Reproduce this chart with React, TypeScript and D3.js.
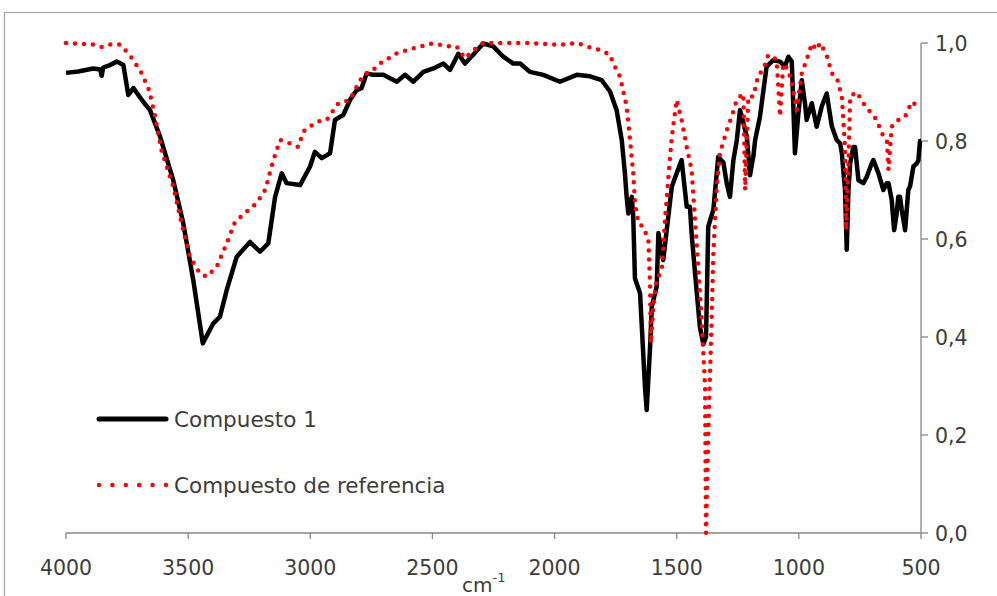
import React from "react";
import * as d3 from "d3";

const xTicks = [4000, 3500, 3000, 2500, 2000, 1500, 1000, 500];
const yTicks = [0, 0.2, 0.4, 0.6, 0.8, 1.0];
const seriesNames = ["Compuesto 1", "Compuesto de referencia"];

// Compuesto 1 (black): [wavenumber, value]
const compuesto1: [number, number][] = [
  [4000, 0.939], [3950, 0.942], [3888, 0.948], [3860, 0.946], [3854, 0.933], [3848, 0.950], [3820, 0.955], [3792, 0.962],
  [3765, 0.955], [3745, 0.894], [3724, 0.908], [3684, 0.880], [3656, 0.863], [3615, 0.809], [3561, 0.720],
  [3520, 0.632], [3479, 0.516], [3440, 0.387], [3397, 0.428], [3370, 0.441], [3342, 0.496], [3301, 0.564],
  [3247, 0.594], [3206, 0.574], [3172, 0.591], [3144, 0.686], [3117, 0.734], [3097, 0.714], [3042, 0.710],
  [3001, 0.748], [2981, 0.778], [2953, 0.765], [2919, 0.775], [2899, 0.843], [2865, 0.853], [2837, 0.884],
  [2810, 0.904], [2790, 0.908], [2769, 0.938], [2742, 0.935], [2701, 0.935], [2646, 0.921], [2612, 0.935],
  [2578, 0.921], [2537, 0.941], [2496, 0.948], [2455, 0.958], [2428, 0.945], [2394, 0.978], [2367, 0.958],
  [2333, 0.976], [2292, 0.999], [2251, 0.993], [2210, 0.972], [2169, 0.958], [2141, 0.958], [2101, 0.941],
  [2046, 0.935], [1978, 0.921], [1909, 0.935], [1855, 0.932], [1807, 0.924], [1773, 0.901], [1746, 0.863],
  [1725, 0.802], [1712, 0.734], [1705, 0.686], [1698, 0.652], [1684, 0.686], [1678, 0.646], [1671, 0.520],
  [1650, 0.489], [1630, 0.299], [1623, 0.251], [1609, 0.380], [1602, 0.462], [1582, 0.503], [1575, 0.612],
  [1555, 0.557], [1541, 0.618], [1520, 0.707], [1500, 0.734], [1480, 0.761], [1459, 0.666], [1446, 0.666],
  [1439, 0.612], [1425, 0.530], [1405, 0.420], [1391, 0.385], [1380, 0.400], [1371, 0.625], [1350, 0.660],
  [1330, 0.768], [1309, 0.756], [1295, 0.713], [1282, 0.686], [1268, 0.761], [1254, 0.802], [1241, 0.863],
  [1227, 0.837], [1213, 0.809], [1200, 0.730], [1186, 0.770], [1179, 0.802], [1159, 0.850], [1152, 0.877],
  [1132, 0.952], [1105, 0.965], [1077, 0.962], [1057, 0.952], [1043, 0.972], [1029, 0.962], [1016, 0.775],
  [1002, 0.856], [988, 0.924], [975, 0.877], [968, 0.843], [947, 0.877], [927, 0.829], [906, 0.871],
  [886, 0.897], [865, 0.830], [845, 0.802], [831, 0.795], [824, 0.775], [811, 0.700], [804, 0.578],
  [797, 0.700], [790, 0.754], [777, 0.788], [770, 0.788], [756, 0.720], [736, 0.714], [722, 0.727],
  [702, 0.754], [695, 0.761], [674, 0.734], [654, 0.700], [640, 0.714], [633, 0.714], [620, 0.680],
  [610, 0.618], [600, 0.650], [593, 0.686], [586, 0.686], [579, 0.660], [565, 0.618], [552, 0.700],
  [545, 0.707], [531, 0.748], [518, 0.754], [511, 0.760], [504, 0.800], [500, 0.800],
];

// Compuesto de referencia (red dotted): [wavenumber, value]
const referencia: [number, number][] = [
  [4000, 1.0], [3888, 0.997], [3854, 0.992], [3810, 0.998], [3780, 0.997], [3745, 0.979], [3724, 0.965],
  [3690, 0.938], [3660, 0.904], [3635, 0.850], [3610, 0.782], [3561, 0.707], [3527, 0.632], [3493, 0.564],
  [3452, 0.530], [3424, 0.523], [3383, 0.543], [3342, 0.591], [3308, 0.635], [3260, 0.656], [3220, 0.673],
  [3185, 0.700], [3151, 0.761], [3124, 0.802], [3083, 0.795], [3049, 0.788], [3029, 0.819], [2974, 0.839],
  [2933, 0.843], [2885, 0.877], [2837, 0.884], [2810, 0.911], [2783, 0.935], [2742, 0.945], [2715, 0.958],
  [2646, 0.979], [2578, 0.989], [2503, 0.999], [2428, 0.993], [2401, 0.993], [2367, 0.969], [2333, 0.985],
  [2292, 1.0], [2115, 1.0], [1978, 0.996], [1909, 1.0], [1842, 0.989], [1814, 0.986], [1773, 0.976],
  [1760, 0.958], [1732, 0.931], [1705, 0.871], [1691, 0.802], [1678, 0.734], [1671, 0.673], [1657, 0.632],
  [1637, 0.625], [1616, 0.598], [1609, 0.503], [1606, 0.387], [1596, 0.462], [1582, 0.516], [1561, 0.537],
  [1548, 0.639], [1534, 0.727], [1520, 0.809], [1500, 0.884], [1480, 0.843], [1459, 0.788], [1439, 0.741],
  [1425, 0.639], [1411, 0.537], [1398, 0.435], [1384, 0.299], [1380, 0.0], [1371, 0.200], [1357, 0.435],
  [1350, 0.571], [1336, 0.707], [1323, 0.775], [1295, 0.822], [1275, 0.850], [1254, 0.884], [1241, 0.891],
  [1227, 0.897], [1220, 0.700], [1207, 0.891], [1186, 0.891], [1166, 0.935], [1146, 0.945], [1125, 0.976],
  [1091, 0.966], [1077, 0.850], [1064, 0.958], [1043, 0.945], [1023, 0.904], [1009, 0.863], [988, 0.938],
  [968, 0.966], [947, 0.999], [927, 0.986], [913, 1.0], [886, 0.975], [865, 0.938], [845, 0.930],
  [824, 0.891], [811, 0.788], [806, 0.618], [797, 0.750], [790, 0.891], [763, 0.900], [736, 0.877],
  [709, 0.860], [681, 0.843], [661, 0.816], [640, 0.802], [633, 0.741], [620, 0.829], [593, 0.843],
  [565, 0.850], [538, 0.880], [504, 0.867],
];

const W = 997;
const H = 596;
const FONT = "'DejaVu Sans', Verdana, sans-serif";
const TEXT = "#3c3c3c";
const AXIS = "#868686";

export default function App() {
  const x = d3.scaleLinear().domain([4000, 500]).range([66, 921]);
  const y = d3.scaleLinear().domain([0, 1]).range([533, 43]);
  const line = d3
    .line<[number, number]>()
    .x((d) => x(d[0]))
    .y((d) => y(d[1]));
  const fmt = (v: number) => v.toFixed(1).replace(".", ",");

  return (
    <div style={{ position: "absolute", left: 0, top: 0, width: W, height: H, background: "#fff" }}>
      <svg width={W} height={H} style={{ display: "block" }}>
        <rect x={0} y={0} width={W} height={H} fill="#fff" />
        <rect x={4.5} y={12.5} width={W + 10} height={H + 10} fill="none" stroke="#a6a6a6" strokeWidth={1.2} />
        {/* x axis */}
        <line x1={x(4000)} x2={x(500)} y1={y(0)} y2={y(0)} stroke={AXIS} strokeWidth={1.3} />
        {xTicks.map((t) => (
          <g key={t}>
            <line x1={x(t)} x2={x(t)} y1={y(0)} y2={y(0) + 6} stroke={AXIS} strokeWidth={1.3} />
            <text x={x(t)} y={y(0) + 42} textAnchor="middle" fontFamily={FONT} fontSize={20.5} fill={TEXT}>
              {t}
            </text>
          </g>
        ))}
        {/* right y axis */}
        <line x1={x(500)} x2={x(500)} y1={y(0)} y2={y(1)} stroke={AXIS} strokeWidth={1.3} />
        {yTicks.map((t) => (
          <g key={t}>
            <line x1={x(500)} x2={x(500) + 7} y1={y(t)} y2={y(t)} stroke={AXIS} strokeWidth={1.3} />
            <text x={x(500) + 14} y={y(t) + 7.5} textAnchor="start" fontFamily={FONT} fontSize={20.5} fill={TEXT}>
              {fmt(t)}
            </text>
          </g>
        ))}
        {/* x axis title */}
        <text x={462} y={592} fontFamily={FONT} fontSize={20} fill={TEXT}>
          cm
          <tspan dy={-10} fontSize={13}>-1</tspan>
        </text>
        {/* series */}
        <path d={line(compuesto1) || ""} fill="none" stroke="#000" strokeWidth={4.5} strokeLinejoin="round" />
        <path
          d={line(referencia) || ""}
          fill="none"
          stroke="#ff0000"
          strokeWidth={4.5}
          strokeDasharray="0 9"
          strokeLinecap="round"
          strokeLinejoin="round"
        />
        {/* legend */}
        <line x1={99} x2={166} y1={419} y2={419} stroke="#000" strokeWidth={5} strokeLinecap="round" />
        <text x={174} y={427} fontFamily={FONT} fontSize={21.5} fill={TEXT}>
          {seriesNames[0]}
        </text>
        <line
          x1={99}
          x2={166}
          y1={485}
          y2={485}
          stroke="#ff0000"
          strokeWidth={4.5}
          strokeDasharray="0 13.4"
          strokeLinecap="round"
        />
        <text x={174} y={493} fontFamily={FONT} fontSize={21.5} fill={TEXT}>
          {seriesNames[1]}
        </text>
      </svg>
    </div>
  );
}
